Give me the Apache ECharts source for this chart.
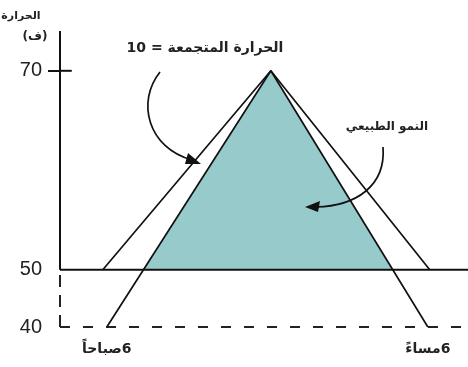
<!DOCTYPE html>
<html>
<head>
<meta charset="utf-8">
<script src="https://cdn.jsdelivr.net/npm/echarts@6.0.0/dist/echarts.min.js"></script>
<style>
  html, body { margin: 0; padding: 0; background: #fff; }
  #chart { width: 468px; height: 367px; direction: rtl; }
</style>
</head>
<body>
<div id="chart"></div>
<script>
// axes (hours of the day / temperature F)
var xMin = 4.25, xMax = 19.5;
var yMin = 40, yMax = 74;
var yTickValues = [40, 50, 70];
var xTickValues = [6, 18];
var xTickLabels = ['6صباحاً', '6مساءً'];

// triangles
var outerX = [5.85, 12.13, 18.07];
var outerY = [50, 70, 50];
var innerX = [6, 12.13, 18];
var innerY = [40, 70, 40];
var growX = [7.37, 12.13, 16.69];
var growY = [50, 70, 50];

var baseTemp = 50;
var lowTemp = 40;

function pairs(xs, ys) {
    return xs.map(function (x, i) { return [x, ys[i]]; });
}

var chart = echarts.init(document.getElementById('chart'), null, { renderer: 'canvas' });

var option = {
    animation: false,
    grid: { left: 60, right: 0, top: 31, bottom: 40 },
    xAxis: {
        type: 'value',
        min: xMin,
        max: xMax,
        axisLine: { show: false },
        axisTick: { show: false },
        splitLine: { show: false },
        axisLabel: {
            customValues: xTickValues,
            margin: 15,
            fontSize: 14,
            fontWeight: 'bold',
            fontFamily: 'DejaVu Sans',
            color: '#222',
            formatter: function (v) { return xTickLabels[xTickValues.indexOf(v)]; }
        }
    },
    yAxis: {
        type: 'value',
        min: yMin,
        max: yMax,
        breaks: [{ start: 41, end: 49, gap: 3.75 }],
        breakArea: {
            show: false,
            itemStyle: { color: 'rgba(0,0,0,0)', borderColor: 'rgba(0,0,0,0)' }
        },
        axisLine: { show: false },
        splitLine: { show: false },
        axisTick: {
            show: true,
            customValues: [70],
            length: 12,
            lineStyle: { color: '#111', width: 2 }
        },
        axisLabel: {
            customValues: yTickValues,
            margin: 18,
            fontSize: 20,
            fontFamily: 'Liberation Sans',
            color: '#222'
        }
    },
    series: [
        {
            // النمو الطبيعي (shaded)
            type: 'line',
            data: pairs(growX, growY),
            symbol: 'none',
            lineStyle: { width: 0 },
            areaStyle: { color: '#97caca', opacity: 1, origin: baseTemp },
            z: 1
        },
        {
            type: 'line',
            data: pairs(outerX, outerY),
            symbol: 'none',
            lineStyle: { color: '#111', width: 1.7 },
            z: 3
        },
        {
            type: 'line',
            data: pairs(innerX, innerY),
            symbol: 'none',
            lineStyle: { color: '#111', width: 1.7 },
            z: 3
        },
        {
            // base line 50
            type: 'line',
            data: [[xMin, baseTemp], [xMax, baseTemp]],
            symbol: 'none',
            lineStyle: { color: '#111', width: 2 },
            z: 2
        },
        {
            // dashed line 40
            type: 'line',
            data: [[xMin, lowTemp], [xMax, lowTemp]],
            symbol: 'none',
            lineStyle: { color: '#222', width: 2, type: [10, 13] },
            z: 2
        },
        {
            // vertical axis, solid part
            type: 'line',
            data: [[xMin, baseTemp], [xMin, yMax]],
            symbol: 'none',
            clip: false,
            lineStyle: { color: '#111', width: 2 },
            z: 2
        },
        {
            // vertical axis, dashed part
            type: 'line',
            data: [[xMin, lowTemp], [xMin, baseTemp]],
            symbol: 'none',
            clip: false,
            lineStyle: { color: '#222', width: 2, type: [12, 8] },
            z: 2
        },
        {
            // inner half of the 70 tick
            type: 'line',
            data: [[xMin, 70], [4.69, 70]],
            symbol: 'none',
            lineStyle: { color: '#111', width: 2 },
            z: 2
        }
    ],
    graphic: [
        { type: 'text', x: 21, y: 16, z: 10, style: { text: 'الحرارة', font: 'bold 11px "DejaVu Sans"', fill: '#222', align: 'center', verticalAlign: 'middle' } },
        { type: 'text', x: 35, y: 37, z: 10, style: { text: '(ف)', font: 'bold 12px "DejaVu Sans"', fill: '#222', align: 'center', verticalAlign: 'middle' } },
        { type: 'text', x: 205, y: 48, z: 10, style: { text: 'الحرارة المتجمعة = 10', font: 'bold 14px "DejaVu Sans"', fill: '#222', align: 'center', verticalAlign: 'middle' } },
        { type: 'text', x: 387, y: 127, z: 10, style: { text: 'النمو الطبيعي', font: 'bold 12px "DejaVu Sans"', fill: '#222', align: 'center', verticalAlign: 'middle' } },
        {
            type: 'bezierCurve', z: 10,
            shape: { x1: 160, y1: 72, cpx1: 136, cpy1: 102, cpx2: 148, cpy2: 148, x2: 192, y2: 160 },
            style: { stroke: '#111', lineWidth: 1.7, fill: null }
        },
        {
            type: 'polygon', z: 10,
            shape: { points: [[201, 164], [188, 153], [185, 164]] },
            style: { fill: '#111' }
        },
        {
            type: 'bezierCurve', z: 10,
            shape: { x1: 383, y1: 147, cpx1: 386, cpy1: 186, cpx2: 356, cpy2: 206, x2: 316, y2: 207 },
            style: { stroke: '#111', lineWidth: 1.7, fill: null }
        },
        {
            type: 'polygon', z: 10,
            shape: { points: [[305, 207], [320, 201], [318, 212]] },
            style: { fill: '#111' }
        }
    ]
};

chart.setOption(option);
</script>
</body>
</html>
